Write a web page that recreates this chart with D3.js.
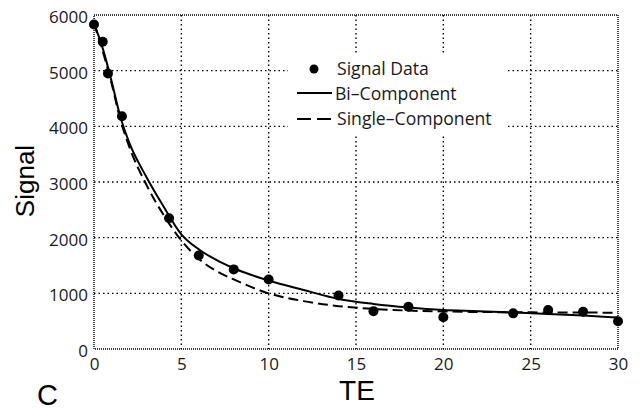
<!DOCTYPE html>
<html lang="en">
<head>
    <meta charset="UTF-8">
    <title>Signal vs TE</title>
    <style>
        body { margin: 0; background: #ffffff; }
        .grid line { stroke: #000; stroke-width: 1.4px; stroke-dasharray: 1.5,3; }
        .frame { fill: none; stroke: #000; stroke-width: 1.4px; stroke-dasharray: 1,1; }
        .tick text { font-family: "Open Sans", sans-serif; font-size: 17px; fill: #1a1a1a; }
        .title { font-family: "Liberation Sans", Arial, sans-serif; fill: #000; }
        .legend text { font-family: "Open Sans", sans-serif; font-size: 17.6px; fill: #1a1a1a; }
    </style>
</head>
<body>
    <script src="https://d3js.org/d3.v7.min.js"></script>
    <script>
        var width = 640;
        var height = 410;

        // measured points
        var teData = [0, 0.5, 0.8, 1.6, 4.3, 6, 8, 10, 14, 16, 18, 20, 24, 26, 28, 30];
        var signalData = [5830, 5520, 4950, 4180, 2350, 1680, 1430, 1250, 960, 680, 760, 570, 640, 700, 670, 500];

        // fitted curves
        var teFit = [0, 0.5, 1, 1.5, 2, 3, 4, 5, 6, 7, 8, 10, 12, 14, 16, 18, 20, 22, 24, 26, 28, 30];
        var biFit = [5850, 5400, 4820, 4180, 3720, 3090, 2550, 2060, 1790, 1600, 1450, 1230, 1060, 900, 810, 745, 700, 680, 655, 630, 600, 565];
        var singleFit = [5850, 5350, 4780, 4130, 3650, 2950, 2400, 1950, 1620, 1400, 1250, 1000, 860, 770, 720, 690, 675, 665, 660, 657, 655, 652];

        var xTicks = [0, 5, 10, 15, 20, 25, 30];
        var yTicks = [0, 1000, 2000, 3000, 4000, 5000, 6000];
        var legendLabels = ["Signal Data", "Bi\u2013Component", "Single\u2013Component"];

        var plotLeft = 94, plotRight = 618, plotTop = 15, plotBottom = 349;

        var x = d3.scaleLinear().domain([0, 30]).range([plotLeft, plotRight]);
        var y = d3.scaleLinear().domain([0, 6000]).range([plotBottom, plotTop]);

        var svg = d3.select('body').append('svg')
            .attr('width', width)
            .attr('height', height);

        // grid
        var grid = svg.append('g').attr('class', 'grid');
        grid.selectAll('.vg')
            .data(xTicks.slice(1, -1))
            .enter().append('line')
            .attr('x1', function(d) { return x(d); })
            .attr('x2', function(d) { return x(d); })
            .attr('y1', plotTop)
            .attr('y2', plotBottom);
        grid.selectAll('.hg')
            .data(yTicks.slice(1, -1))
            .enter().append('line')
            .attr('x1', plotLeft)
            .attr('x2', plotRight)
            .attr('y1', function(d) { return y(d); })
            .attr('y2', function(d) { return y(d); });

        svg.append('rect')
            .attr('class', 'frame')
            .attr('x', plotLeft)
            .attr('y', plotTop)
            .attr('width', plotRight - plotLeft)
            .attr('height', plotBottom - plotTop);

        // axes (labels only)
        var xAxis = svg.append('g')
            .attr('transform', 'translate(0,' + plotBottom + ')')
            .call(d3.axisBottom(x).tickValues(xTicks).tickSize(0).tickPadding(9));
        xAxis.select('.domain').remove();

        var yAxis = svg.append('g')
            .attr('transform', 'translate(' + plotLeft + ',0)')
            .call(d3.axisLeft(y).tickValues(yTicks).tickSize(0).tickPadding(6).tickFormat(d3.format('d')));
        yAxis.select('.domain').remove();
        yAxis.selectAll('text').attr('dy', '0.45em');

        // curves
        var line = d3.line()
            .x(function(d) { return x(d[0]); })
            .y(function(d) { return y(d[1]); })
            .curve(d3.curveMonotoneX);

        svg.append('path')
            .datum(d3.zip(teFit, singleFit))
            .attr('fill', 'none')
            .attr('stroke', '#000')
            .attr('stroke-width', 2)
            .attr('stroke-dasharray', '10,5')
            .attr('d', line);

        svg.append('path')
            .datum(d3.zip(teFit, biFit))
            .attr('fill', 'none')
            .attr('stroke', '#000')
            .attr('stroke-width', 2)
            .attr('d', line);

        svg.selectAll('.pt')
            .data(d3.zip(teData, signalData))
            .enter().append('circle')
            .attr('cx', function(d) { return x(d[0]); })
            .attr('cy', function(d) { return y(d[1]); })
            .attr('r', 5)
            .attr('fill', '#000');

        // legend
        var legend = svg.append('g').attr('class', 'legend');
        legend.append('rect')
            .attr('x', 288).attr('y', 55)
            .attr('width', 218).attr('height', 81)
            .attr('fill', '#fff');
        legend.append('circle')
            .attr('cx', 314).attr('cy', 69).attr('r', 4.5).attr('fill', '#000');
        legend.append('line')
            .attr('x1', 297).attr('x2', 332).attr('y1', 93).attr('y2', 93)
            .attr('stroke', '#000').attr('stroke-width', 2);
        legend.append('line')
            .attr('x1', 297).attr('x2', 331).attr('y1', 119).attr('y2', 119)
            .attr('stroke', '#000').attr('stroke-width', 2)
            .attr('stroke-dasharray', '14,6');
        legend.selectAll('text')
            .data(legendLabels)
            .enter().append('text')
            .attr('x', function(d, i) { return i === 1 ? 335 : 337; })
            .attr('y', function(d, i) { return 75 + i * 25; })
            .text(function(d) { return d; });

        // titles
        svg.append('text')
            .attr('class', 'title')
            .attr('x', 357).attr('y', 400)
            .attr('text-anchor', 'middle')
            .style('font-size', '28px')
            .text('TE');
        svg.append('text')
            .attr('class', 'title')
            .attr('transform', 'translate(34,181) rotate(-90)')
            .attr('text-anchor', 'middle')
            .style('font-size', '26px')
            .text('Signal');
        svg.append('text')
            .attr('class', 'title')
            .attr('x', 37).attr('y', 405)
            .style('font-size', '29px')
            .text('C');
    </script>
</body>
</html>
